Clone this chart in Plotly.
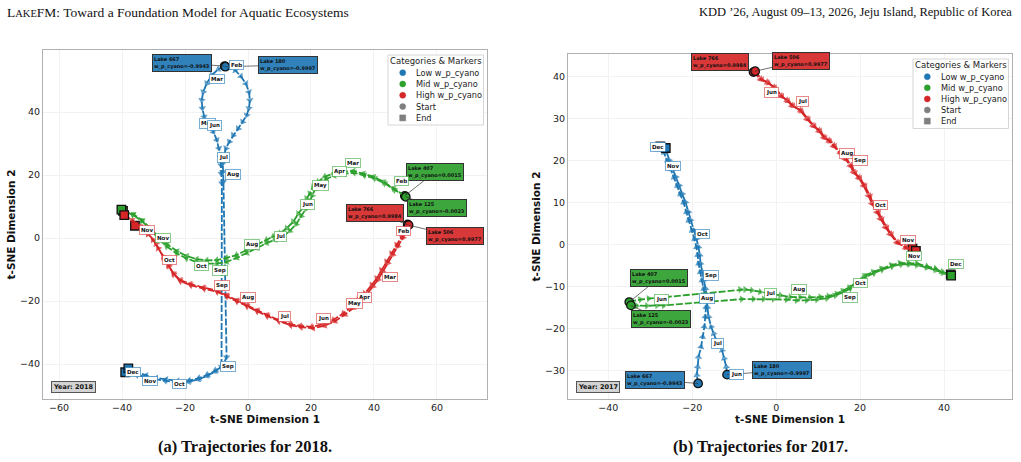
import plotly.graph_objects as go

BLUE = "#1f77b4"
GREEN = "#2ca02c"
RED = "#d62728"
FONT = "DejaVu Sans"

# ---------------- 2018 panel data ----------------
l667_18_x = [-7.4, -9.4, -11.5, -13.1, -14.2, -14.7, -14.5, -13.9, -12.6, -11.0, -9.9, -9.2, -8.7, -8.6, -8.5, -8.3,
             -8.4, -10.5, -13.1, -15.8, -18.9, -22.6, -26.3, -29.5, -32.7, -35.3, -37.5, -39.0]
l667_18_y = [54.6, 53.6, 51.7, 49.1, 46.4, 43.8, 41.2, 38.5, 36.4, 33.7, 31.1, 28.5, 25.8, 23.2, 20.5, 17.4,
             -40.8, -42.4, -43.8, -44.9, -45.6, -45.8, -45.3, -44.8, -44.0, -43.5, -42.8, -42.6]
l180_18_x = [-7.2, -4.1, -2.3, -0.7, 0.3, 0.6, 0.3, -0.4, -1.7, -3.1, -4.7, -5.9, -7.0, -7.6, -8.0, -8.0, -7.8,
             -6.8, -8.0, -10.2, -12.8, -15.5, -18.6, -22.3, -26.0, -29.2, -32.4, -35.0, -37.2, -38.0]
l180_18_y = [54.4, 53.3, 51.4, 49.1, 46.4, 43.8, 41.2, 39.0, 36.9, 34.8, 32.7, 30.6, 28.5, 26.3, 23.7, 21.0, 17.9,
             -37.8, -40.5, -42.0, -43.4, -44.5, -45.2, -45.4, -44.9, -44.4, -43.6, -42.8, -41.9, -41.4]
l407_18_x = [49.8, 46.1, 43.0, 39.8, 36.6, 33.4, 30.3, 27.1, 24.4, 22.3, 20.7, 19.7, 18.6, 17.6, 16.0, 14.4, 12.3, 10.2,
             8.0, 5.9, 2.8, -0.4, -3.6, -6.8, -9.9, -13.1, -16.3, -19.5, -22.6, -25.8, -28.6, -31.1, -33.7, -36.5, -39.7]
l407_18_y = [13.4, 15.8, 17.9, 19.5, 20.5, 21.3, 21.0, 20.5, 19.5, 17.9, 16.3, 14.2, 12.6, 9.9, 7.8, 5.2, 3.1, 1.5,
             0.5, -0.6, -2.2, -3.8, -5.4, -6.3, -7.0, -7.1, -6.7, -5.7, -4.1, -1.9, 0.6, 3.2, 5.7, 7.6, 8.6]
l125_18_x = [50.1, 46.6, 43.5, 40.3, 37.0, 33.8, 30.6, 27.4, 24.9, 22.9, 21.4, 20.4, 19.4, 18.4, 16.9, 15.3, 13.3, 11.2,
             8.5, 5.9, 2.8, -0.4, -3.6, -6.8, -9.9, -13.1, -16.3, -19.5, -22.6, -25.8, -28.6, -31.1, -33.7, -36.5, -40.2]
l125_18_y = [13.1, 15.2, 17.3, 18.9, 19.9, 20.7, 20.4, 19.8, 18.8, 17.2, 15.6, 13.5, 11.8, 9.2, 7.0, 4.4, 2.3, 0.6,
             -0.6, -1.6, -3.2, -4.8, -6.3, -7.6, -8.1, -8.1, -7.6, -6.5, -4.9, -2.7, 0.0, 2.9, 5.4, 7.3, 9.0]
l766_18_x = [50.7, 48.8, 47.2, 45.6, 44.0, 42.4, 40.9, 39.3, 37.1, 35.0, 32.9, 30.3, 27.1, 23.9, 20.2, 16.5, 13.3, 9.6,
             5.9, 2.8, -0.4, -3.6, -6.8, -9.9, -14.2, -18.4, -21.6, -23.7, -25.3, -26.9, -28.5, -30.1, -31.7, -33.7, -35.9]
l766_18_y = [4.3, 0.4, -2.2, -4.9, -7.5, -10.2, -12.8, -14.9, -17.6, -19.7, -21.8, -23.9, -26.0, -27.3, -28.2, -27.9,
             -27.3, -26.0, -24.4, -22.9, -21.3, -19.7, -18.1, -16.7, -15.7, -14.6, -13.3, -11.2, -8.6, -5.9, -3.3,
             -0.6, 1.5, 3.1, 3.9]
l506_18_x = [51.0, 49.2, 47.6, 46.0, 44.4, 42.8, 41.3, 39.7, 37.6, 35.5, 33.4, 30.8, 27.6, 24.3, 20.6, 16.9, 13.6, 9.9,
             6.2, 3.0, -0.2, -3.4, -6.6, -9.7, -13.9, -18.1, -21.4, -23.5, -25.1, -26.7, -29.2, -31.7, -34.3, -36.8, -39.3]
l506_18_y = [4.1, 0.1, -2.6, -5.3, -7.9, -10.6, -13.2, -15.3, -18.0, -20.1, -22.2, -24.3, -26.4, -27.8, -28.6, -28.3,
             -27.7, -26.4, -24.8, -23.3, -21.7, -20.1, -18.5, -17.1, -16.1, -15.0, -13.7, -11.6, -9.0, -6.3, -1.9,
             1.3, 3.8, 5.7, 7.3]

# month labels 2018
m18_blue = ["Feb", "Mar", "May", "Jun", "Jul", "Aug", "Sep", "Oct", "Nov", "Dec"]
m18_blue_x = [-3.8, -9.9, -13.0, -10.5, -7.9, -4.9, -6.3, -21.9, -31.1, -36.4]
m18_blue_y = [54.9, 50.4, 36.5, 35.6, 25.7, 20.3, -40.9, -46.4, -45.3, -42.6]
m18_green = ["Feb", "Mar", "Apr", "May", "Jun", "Jul", "Aug", "Sep", "Oct", "Nov"]
m18_green_x = [48.8, 33.4, 29.2, 23.1, 18.8, 10.4, 1.2, -8.9, -14.9, -26.9]
m18_green_y = [18.1, 23.7, 21.0, 16.7, 10.6, 0.6, -2.0, -10.2, -8.9, 0.1]
m18_red = ["Feb", "Mar", "Apr", "May", "Jun", "Jul", "Aug", "Sep", "Oct", "Nov"]
m18_red_x = [49.5, 45.1, 36.9, 33.7, 24.1, 11.7, 0.1, -8.3, -24.8, -32.2]
m18_red_y = [2.2, -12.3, -18.8, -20.7, -25.5, -24.8, -19.0, -15.1, -7.0, 2.5]

# ---------------- 2017 panel data ----------------
l667_17_x = [-18.6, -18.9, -18.7, -18.5, -17.9, -17.5, -17.1, -16.9, -16.7, -16.9, -17.3, -17.7, -18.1, -18.5, -18.7,
             -19.0, -19.5, -20.1, -20.9, -21.4, -22.1, -22.9, -23.6, -24.4, -25.2, -26.0, -26.8, -27.6]
l667_17_y = [-33.1, -31.1, -29.1, -26.8, -24.4, -22.0, -19.6, -17.2, -14.9, -12.5, -10.5, -8.5, -6.5, -4.5, -2.5,
             -0.6, 1.4, 3.4, 5.8, 7.8, 10.1, 12.1, 14.1, 16.1, 18.1, 20.1, 22.0, 23.4]
l180_17_x = [-11.7, -11.9, -12.4, -12.9, -14.1, -14.9, -15.5, -16.1, -16.4, -16.5, -16.8, -17.2, -17.6, -18.0, -18.2,
             -18.5, -19.0, -19.6, -20.4, -20.9, -21.6, -22.4, -23.1, -23.9, -24.7, -25.5, -26.1, -26.3]
l180_17_y = [-31.0, -29.1, -27.1, -25.2, -23.2, -21.2, -19.6, -17.2, -14.9, -12.5, -10.5, -8.5, -6.5, -4.5, -2.5,
             -0.6, 1.4, 3.4, 5.8, 7.8, 10.1, 12.1, 14.1, 16.1, 18.1, 20.1, 22.0, 23.0]
l407_17_x = [-35.0, -32.4, -30.4, -28.4, -26.0, -8.6, -7.4, -5.8, -3.8, 1.0, 3.3, 5.7, 8.1, 10.5, 12.5, 14.5, 16.0,
             17.6, 19.2, 21.2, 23.2, 25.2, 27.5, 29.5, 31.5, 33.5, 35.9, 37.9, 39.4, 41.6]
l407_17_y = [-13.7, -13.1, -12.9, -12.7, -12.6, -10.7, -10.7, -10.9, -11.3, -12.1, -12.5, -12.6, -12.6, -12.5, -12.3,
             -11.7, -11.0, -10.1, -8.9, -7.3, -6.5, -5.7, -4.9, -4.4, -4.4, -4.5, -5.2, -5.7, -6.5, -7.1]
l125_17_x = [-34.6, -33.2, -30.8, -28.4, -26.8, -8.2, -5.4, -3.0, -0.6, 2.5, 4.9, 7.3, 9.7, 12.1, 14.0, 16.0, 17.6,
             19.3, 21.2, 23.3, 25.2, 27.6, 29.8, 31.7, 33.6, 36.0, 38.1, 39.8, 41.7]
l125_17_y = [-14.5, -14.6, -14.6, -14.5, -14.5, -13.0, -13.0, -13.0, -13.0, -13.1, -13.3, -13.3, -13.1, -12.8, -12.1,
             -11.4, -10.5, -9.3, -7.8, -6.8, -6.0, -5.2, -4.7, -4.7, -4.9, -5.5, -6.1, -6.8, -7.4]
l766_17_x = [-5.4, -3.8, -2.2, -0.6, 1.0, 2.5, 3.7, 5.7, 7.3, 8.7, 10.1, 11.3, 12.5, 13.6, 15.2, 16.4, 17.6, 18.4,
             19.6, 20.8, 22.0, 22.8, 24.0, 24.8, 26.0, 27.1, 28.7, 30.7, 32.5]
l766_17_y = [41.1, 39.5, 38.7, 37.5, 35.5, 34.4, 33.2, 32.0, 30.0, 28.4, 27.2, 25.6, 24.8, 23.6, 22.0, 20.5, 18.9,
             17.3, 16.0, 14.1, 11.7, 9.8, 7.8, 6.2, 4.2, 2.6, 0.6, -0.6, -1.0]
l506_17_x = [-5.0, -3.4, -1.8, -0.2, 1.4, 2.9, 4.1, 6.1, 7.7, 9.1, 10.5, 11.7, 12.9, 14.0, 15.6, 16.8, 18.0, 18.8,
             20.0, 21.2, 22.4, 23.2, 24.4, 25.2, 26.4, 27.5, 29.1, 31.1, 33.3]
l506_17_y = [41.3, 39.3, 38.5, 37.3, 35.3, 34.2, 33.0, 31.8, 29.8, 28.2, 27.0, 25.4, 24.6, 23.4, 21.8, 20.3, 18.7,
             17.1, 15.8, 13.9, 11.5, 9.6, 7.6, 6.0, 4.0, 2.4, 0.4, -0.8, -1.5]

m17_blue = ["Dec", "Nov", "Oct", "Sep", "Aug", "Jul", "Jun"]
m17_blue_x = [-28.1, -24.6, -17.5, -15.6, -16.4, -13.9, -9.5]
m17_blue_y = [23.2, 18.6, 2.5, -7.3, -12.8, -23.6, -30.9]
m17_green = ["Jun", "Jul", "Aug", "Sep", "Oct", "Nov", "Dec"]
m17_green_x = [-27.4, -1.4, 5.5, 17.6, 20.0, 32.9, 42.8]
m17_green_y = [-13.1, -11.7, -10.6, -12.7, -9.1, -2.7, -4.7]
m17_red = ["Jun", "Jul", "Aug", "Sep", "Oct", "Nov"]
m17_red_x = [-1.0, 6.3, 17.0, 20.0, 24.9, 31.3]
m17_red_y = [36.2, 34.0, 21.8, 20.1, 9.4, 1.2]

# lake info boxes: name, value, box x, box y
lakes_18 = [("Lake 667", "-0.9943", -21.0, 55.5, BLUE, l667_18_x, l667_18_y),
            ("Lake 180", "-0.9997", 12.8, 54.9, BLUE, l180_18_x, l180_18_y),
            ("Lake 407", "0.0015", 59.4, 21.0, GREEN, l407_18_x, l407_18_y),
            ("Lake 125", "-0.0023", 59.9, 9.4, GREEN, l125_18_x, l125_18_y),
            ("Lake 766", "0.9984", 40.3, 7.8, RED, l766_18_x, l766_18_y),
            ("Lake 506", "0.9977", 65.7, 0.6, RED, l506_18_x, l506_18_y)]
lakes_17 = [("Lake 667", "-0.9943", -28.8, -32.3, BLUE, l667_17_x, l667_17_y),
            ("Lake 180", "-0.9997", 1.4, -30.0, BLUE, l180_17_x, l180_17_y),
            ("Lake 407", "0.0015", -28.0, -8.0, GREEN, l407_17_x, l407_17_y),
            ("Lake 125", "-0.0023", -27.4, -17.8, GREEN, l125_17_x, l125_17_y),
            ("Lake 766", "0.9984", -13.3, 43.4, RED, l766_17_x, l766_17_y),
            ("Lake 506", "0.9977", 6.0, 43.8, RED, l506_17_x, l506_17_y)]

legend_labels = ["Low w_p_cyano", "Mid w_p_cyano", "High w_p_cyano", "Start", "End"]
legend_colors = [BLUE, GREEN, RED, "#7f7f7f", "#7f7f7f"]
legend_shapes = ["circle", "circle", "circle", "circle", "rect"]

LIGHT = {BLUE: "rgba(31,119,180,0.6)", GREEN: "rgba(44,160,44,0.55)", RED: "rgba(214,39,40,0.55)"}
BOXFILL = {BLUE: "rgba(31,119,180,0.92)", GREEN: "rgba(44,160,44,0.92)", RED: "rgba(214,39,40,0.92)"}

W, H = 1021, 462
fig = go.Figure()
annotations = []
shapes = []


def add_legend(box, title_y, entry_y0, step, mx, tx):
    x0, y0, x1, y1 = box
    shapes.append(dict(type="rect", xref="paper", yref="paper", x0=x0 / W, x1=x1 / W, y0=1 - y1 / H,
                       y1=1 - y0 / H, fillcolor="rgba(255,255,255,0.9)", line=dict(color="#d6d6d6", width=1),
                       layer="above"))
    annotations.append(dict(x=(x0 + x1) / 2 / W, y=1 - title_y / H, xref="paper", yref="paper",
                            xanchor="center", yanchor="middle", showarrow=False, text="Categories & Markers",
                            font=dict(family=FONT, size=8.5, color="#222")))
    for i, (lab, col, shp) in enumerate(zip(legend_labels, legend_colors, legend_shapes)):
        ey = entry_y0 + i * step
        r = 3.0
        shapes.append(dict(type=shp, xref="paper", yref="paper", x0=(mx - r) / W, x1=(mx + r) / W,
                           y0=1 - (ey + r) / H, y1=1 - (ey - r) / H, fillcolor=col,
                           line=dict(color=col, width=0.5), layer="above"))
        annotations.append(dict(x=tx / W, y=1 - ey / H, xref="paper", yref="paper", xanchor="left",
                                yanchor="middle", showarrow=False, text=lab,
                                font=dict(family=FONT, size=8.2, color="#222")))


def add_panel(lakes, months, xa, ya, year):
    for name, val, bx, by, col, xs, ys in lakes:
        sizes = [0] + [6.5] * (len(xs) - 1)
        fig.add_trace(go.Scatter(x=xs, y=ys, mode="lines+markers", xaxis=xa, yaxis=ya,
                                 line=dict(color=col, width=1.8, dash="7px,2px"),
                                 marker=dict(symbol="triangle-up", size=sizes, color=col, angleref="previous",
                                             line=dict(width=0)),
                                 showlegend=False, hoverinfo="skip"))
        fig.add_trace(go.Scatter(x=[xs[0]], y=[ys[0]], mode="markers", xaxis=xa, yaxis=ya,
                                 marker=dict(symbol="circle", size=8.5, color=col,
                                             line=dict(color="#111", width=1.3)),
                                 showlegend=False, hoverinfo="skip"))
        fig.add_trace(go.Scatter(x=[xs[-1]], y=[ys[-1]], mode="markers", xaxis=xa, yaxis=ya,
                                 marker=dict(symbol="square", size=8.5, color=col,
                                             line=dict(color="#111", width=1.3)),
                                 showlegend=False, hoverinfo="skip"))
        annotations.append(dict(x=xs[0], y=ys[0], xref=xa, yref=ya, ax=bx, ay=by, axref=xa, ayref=ya,
                                text=f"<b>{name}<br>w_p_cyano={val}</b>", align="left", showarrow=True,
                                arrowhead=0, arrowwidth=0.7, arrowcolor="#333",
                                font=dict(family=FONT, size=5, color="#111"),
                                bgcolor=BOXFILL[col], bordercolor="#333", borderwidth=1, borderpad=1))
    for labels, lx, ly, col in months:
        for t, x, y in zip(labels, lx, ly):
            annotations.append(dict(x=x, y=y, xref=xa, yref=ya, text=f"<b>{t}</b>", showarrow=False,
                                    font=dict(family=FONT, size=5.5, color="#111"),
                                    bgcolor="white", bordercolor=LIGHT[col], borderwidth=1, borderpad=1))
    annotations.append(dict(x=0.018, y=0.018, xref=f"{xa} domain", yref=f"{ya} domain",
                            xanchor="left", yanchor="bottom", text=f"<b>Year: {year}</b>", showarrow=False,
                            font=dict(family=FONT, size=6.5, color="#111"),
                            bgcolor="#d3d3d3", bordercolor="#555", borderwidth=1, borderpad=1))


add_panel(lakes_18, [(m18_blue, m18_blue_x, m18_blue_y, BLUE), (m18_green, m18_green_x, m18_green_y, GREEN),
                     (m18_red, m18_red_x, m18_red_y, RED)], "x", "y", 2018)
add_panel(lakes_17, [(m17_blue, m17_blue_x, m17_blue_y, BLUE), (m17_green, m17_green_x, m17_green_y, GREEN),
                     (m17_red, m17_red_x, m17_red_y, RED)], "x2", "y2", 2017)
add_legend((388, 55, 483.5, 125), 61, 72.7, 11.3, 402.7, 414)
add_legend((913, 59, 1008.5, 128.5), 65, 76.7, 11.1, 927.3, 939)

axis_common = dict(showline=True, mirror=True, linecolor="#b0b0b0", linewidth=1, showgrid=True,
                   gridcolor="#f2f2f2", gridwidth=1, zeroline=False, ticks="",
                   tickfont=dict(family=FONT, size=9.5, color="#222"))


def xtitle(t):
    return dict(text=f"<b>{t}</b>", font=dict(family=FONT, size=10.5, color="#111"), standoff=2)


fig.update_layout(
    width=W, height=H, margin=dict(l=0, r=0, t=0, b=0), paper_bgcolor="white", plot_bgcolor="white",
    showlegend=False,
    xaxis=dict(domain=[43 / W, 487 / W], range=[-65.1, 75.9], tickvals=[-60, -40, -20, 0, 20, 40, 60],
               anchor="y", title=xtitle("t-SNE Dimension 1"), **axis_common),
    yaxis=dict(domain=[1 - 399 / H, 1 - 50 / H], range=[-51.1, 59.7], tickvals=[-40, -20, 0, 20, 40],
               anchor="x", title=xtitle("t-SNE Dimension 2"), **axis_common),
    xaxis2=dict(domain=[568 / W, 1012 / W], range=[-49.6, 56.2], tickvals=[-40, -20, 0, 20, 40],
                anchor="y2", title=xtitle("t-SNE Dimension 1"), **axis_common),
    yaxis2=dict(domain=[1 - 399 / H, 1 - 54 / H], range=[-36.8, 45.4], tickvals=[-30, -20, -10, 0, 10, 20, 30, 40],
                anchor="x2", title=xtitle("t-SNE Dimension 2"), **axis_common),
)

SERIF = "Liberation Serif"
annotations += [
    dict(x=5 / W, y=1 - 12 / H, xref="paper", yref="paper", xanchor="left", yanchor="middle", showarrow=False,
         text="L<span style='font-size:10.5px'>AKE</span>FM: Toward a Foundation Model for Aquatic Ecosystems",
         font=dict(family=SERIF, size=13.5, color="#111")),
    dict(x=1014 / W, y=1 - 12 / H, xref="paper", yref="paper", xanchor="right", yanchor="middle", showarrow=False,
         text="KDD ’26, August 09–13, 2026, Jeju Island, Republic of Korea",
         font=dict(family=SERIF, size=12.5, color="#111")),
    dict(x=245 / W, y=1 - 446 / H, xref="paper", yref="paper", xanchor="center", yanchor="middle", showarrow=False,
         text="<b>(a) Trajectories for 2018.</b>", font=dict(family=SERIF, size=16.5, color="#111")),
    dict(x=760 / W, y=1 - 446 / H, xref="paper", yref="paper", xanchor="center", yanchor="middle", showarrow=False,
         text="<b>(b) Trajectories for 2017.</b>", font=dict(family=SERIF, size=16.5, color="#111")),
]
fig.update_layout(annotations=annotations, shapes=shapes)

fig.write_html("out.html")
